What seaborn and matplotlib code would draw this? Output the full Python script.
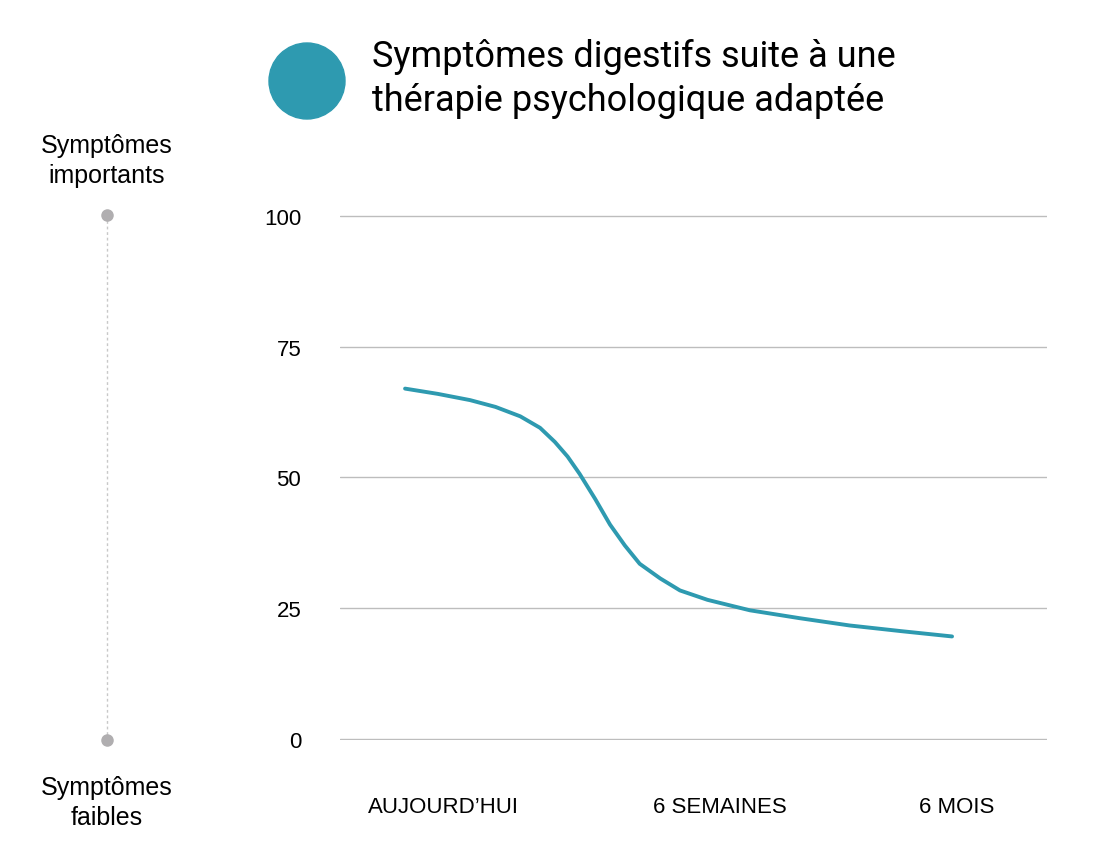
import pandas as pd
import matplotlib.pyplot as plt
import seaborn as sns
from matplotlib.patches import Ellipse
from matplotlib.lines import Line2D

# timeline position (0-100) and symptom score
time_pos = [9.2, 13.8, 18.4, 22.0, 25.5, 28.3, 30.4, 32.2, 33.9, 36.1, 38.2, 40.3, 42.4,
            45.3, 48.1, 52.0, 58.0, 65.0, 72.1, 79.5, 86.6]
score = [67.0, 66.0, 64.8, 63.5, 61.7, 59.5, 56.8, 54.0, 50.7, 45.9, 41.0, 37.0, 33.5,
         30.7, 28.4, 26.6, 24.6, 23.1, 21.7, 20.6, 19.6]
tick_pos = [14.6, 53.7, 87.3]
tick_labels = ["AUJOURD\u2019HUI", "6 SEMAINES", "6 MOIS"]
y_ticks = [0, 25, 50, 75, 100]
teal = "#2E9AB0"

df = pd.DataFrame({"t": time_pos, "score": score})

sns.set_style("white")
plt.rcParams["font.family"] = "Liberation Sans"
plt.rcParams["text.color"] = "black"
fig = plt.figure(figsize=(11.2, 8.62), dpi=100)
ax = fig.add_axes([0.3036, 0.1404, 0.631, 0.609])
sns.lineplot(data=df, x="t", y="score", color=teal, linewidth=2.8, ax=ax)
ax.set_xlim(0, 100)
ax.set_ylim(-0.2, 100.2)
ax.set_yticks(y_ticks)
ax.set_xticks(tick_pos)
ax.set_xticklabels(tick_labels, fontsize=16, color="black")
ax.set_yticklabels([str(v) for v in y_ticks], fontsize=16, color="black")
ax.grid(axis="y", color="#bdbdbd", linewidth=1)
ax.set_axisbelow(True)
for s in ax.spines.values():
    s.set_visible(False)
ax.tick_params(axis="both", length=0)
ax.tick_params(axis="x", pad=40)
ax.tick_params(axis="y", pad=28)
ax.set_xlabel("")
ax.set_ylabel("")

# title with teal dot
fig.add_artist(Ellipse((307 / 1120, 1 - 82 / 862), 76 / 1120, 76 / 862,
                       transform=fig.transFigure, color=teal))
fig.text(372 / 1120, 1 - 57 / 862, "Symptômes digestifs suite à une",
         fontsize=26, family="Roboto", va="center", color="black")
fig.text(372 / 1120, 1 - 101 / 862, "thérapie psychologique adaptée",
         fontsize=26, family="Roboto", va="center", color="black")

# left scale indicator
x0 = 107 / 1120
fig.add_artist(Line2D([x0, x0], [1 - 216 / 862, 1 - 741 / 862], transform=fig.transFigure,
                      color="#c8c8c8", linestyle=(0, (2, 2)), linewidth=1))
for yy in (216, 741):
    fig.add_artist(Line2D([x0], [1 - yy / 862], transform=fig.transFigure, marker="o",
                          markersize=8, color="#b0aeb0", linestyle=""))
fig.text(x0, 1 - 161 / 862, "Symptômes\nimportants", fontsize=18, ha="center",
         va="center", linespacing=1.3)
fig.text(x0, 1 - 803 / 862, "Symptômes\nfaibles", fontsize=18, ha="center",
         va="center", linespacing=1.3)

fig.savefig("out.png", dpi=100)
